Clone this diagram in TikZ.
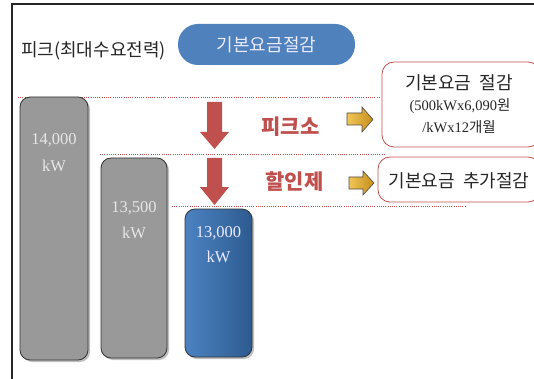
\documentclass[tikz,border=0pt]{standalone}
\usepackage{fontspec}
\setmainfont{Liberation Serif}
\newfontfamily\kr{Noto Sans CJK KR}
\definecolor{redc}{HTML}{C0504D}
\definecolor{barg}{HTML}{999999}
\definecolor{pillb}{HTML}{4F81BD}
\definecolor{bartxt}{HTML}{E6E6E6}
\definecolor{blueL}{HTML}{4C82C2}
\definecolor{blueM}{HTML}{336FAE}
\definecolor{blueR}{HTML}{2D5B8F}
\definecolor{goldL}{HTML}{F2C656}
\definecolor{goldR}{HTML}{C58E1C}
\begin{document}
\begin{tikzpicture}[x=1pt,y=-1pt,
  frame/.style={line width=1.2pt,draw=black!85},
  bar/.style={rounded corners=10pt,draw=black!80,line width=0.8pt},
  bartext/.style={text=bartxt,font=\fontsize{16.5}{16.5}\selectfont,inner sep=0pt},
  dotline/.style={draw=redc,line width=0.9pt,dash pattern=on 1pt off 1.2pt},
  redarrow/.style={fill=redc},
  goldarrow/.style={left color=goldL,right color=goldR,draw=black!70,line width=0.6pt},
  infobox/.style={draw=redc,line width=0.8pt,rounded corners=12pt},
  redlbl/.style={text=redc,font=\kr\bfseries\fontsize{21}{21}\selectfont,inner sep=0pt},
  krlbl/.style={font=\kr\fontsize{18}{18}\selectfont,inner sep=0pt,text=black!85}]
\useasboundingbox (0,0) rectangle (534,379);
% frame
\draw[frame] (534,4) -- (12,4) -- (12,380);
% title
\node[krlbl,anchor=west] (title) at (21,51) {피크(최대수요전력)};
\node[fill=pillb,rounded corners=20pt,minimum width=177pt,minimum height=41pt,inner sep=0pt,
      text=white!92!blue,font=\kr\fontsize{18}{18}\selectfont] (pill) at (266.5,44.5) {기본요금절감};
% dotted lines
\coordinate (d1a) at (18,97);  \coordinate (d1b) at (381,97);
\coordinate (d2a) at (100,154); \coordinate (d2b) at (385,154);
\coordinate (d3a) at (172,206); \coordinate (d3b) at (465,206);
\draw[dotline] (d1a) -- (d1b);
\draw[dotline] (d2a) -- (d2b);
\draw[dotline] (d3a) -- (d3b);
% bars
\fill[black!25,rounded corners=10pt] (22,99) rectangle (90,362);
\fill[black!25,rounded corners=10pt] (103,160) rectangle (169,360);
\fill[black!25,rounded corners=10pt] (187,211) rectangle (254,359);
\draw[bar,fill=barg] (20,97) rectangle (88,360);
\draw[bar,fill=barg] (101,158) rectangle (167,358);
\shade[rounded corners=10pt,left color=blueL,middle color=blueM,right color=blueR] (185,209) rectangle (252,357);
\draw[bar] (185,209) rectangle (252,357);
\node[bartext] (b1a) at (54,140) {14,000};
\node[bartext] (b1b) at (54,166) {kW};
\node[bartext] (b2a) at (134,208) {13,500};
\node[bartext] (b2b) at (134,233) {kW};
\node[bartext,text=white!92!blue] (b3a) at (218.5,233) {13,000};
\node[bartext,text=white!92!blue] (b3b) at (218.5,257) {kW};
% red arrows
\fill[redarrow] (207,102) -- (222,102) -- (222,132) -- (229,132) -- (214.5,149) -- (200,132) -- (207,132) -- cycle;
\fill[redarrow] (207,158) -- (222,158) -- (222,187) -- (229,187) -- (214.5,205) -- (200,187) -- (207,187) -- cycle;
% red labels
\node[redlbl] (l1) at (290.5,127) {피크소};
\node[redlbl] (l2) at (294.5,182) {할인제};
% gold arrows
\draw[goldarrow] (347,113) -- (362,113) -- (362,107) -- (373,119.5) -- (362,132) -- (362,125) -- (347,125) -- cycle;
\draw[goldarrow] (349,177) -- (363,177) -- (363,171) -- (374,183) -- (363,195) -- (363,189) -- (349,189) -- cycle;
% info boxes
\draw[infobox] (382,62) rectangle (540,147);
\draw[infobox] (378,157) rectangle (540,202);
\node[krlbl] (t1) at (459,83) {기본요금\ \ 절감};
\node[inner sep=0pt,font=\fontsize{14.5}{14.5}\selectfont,text=black!85] (t2) at (460,106) {(500kWx6,090{\kr 원}};
\node[inner sep=0pt,font=\fontsize{14.5}{14.5}\selectfont,text=black!85] (t3) at (459,127) {/kWx12{\kr 개월}};
\node[krlbl] (t4) at (459,181) {기본요금\ \ 추가절감};
\end{tikzpicture}
\end{document}
